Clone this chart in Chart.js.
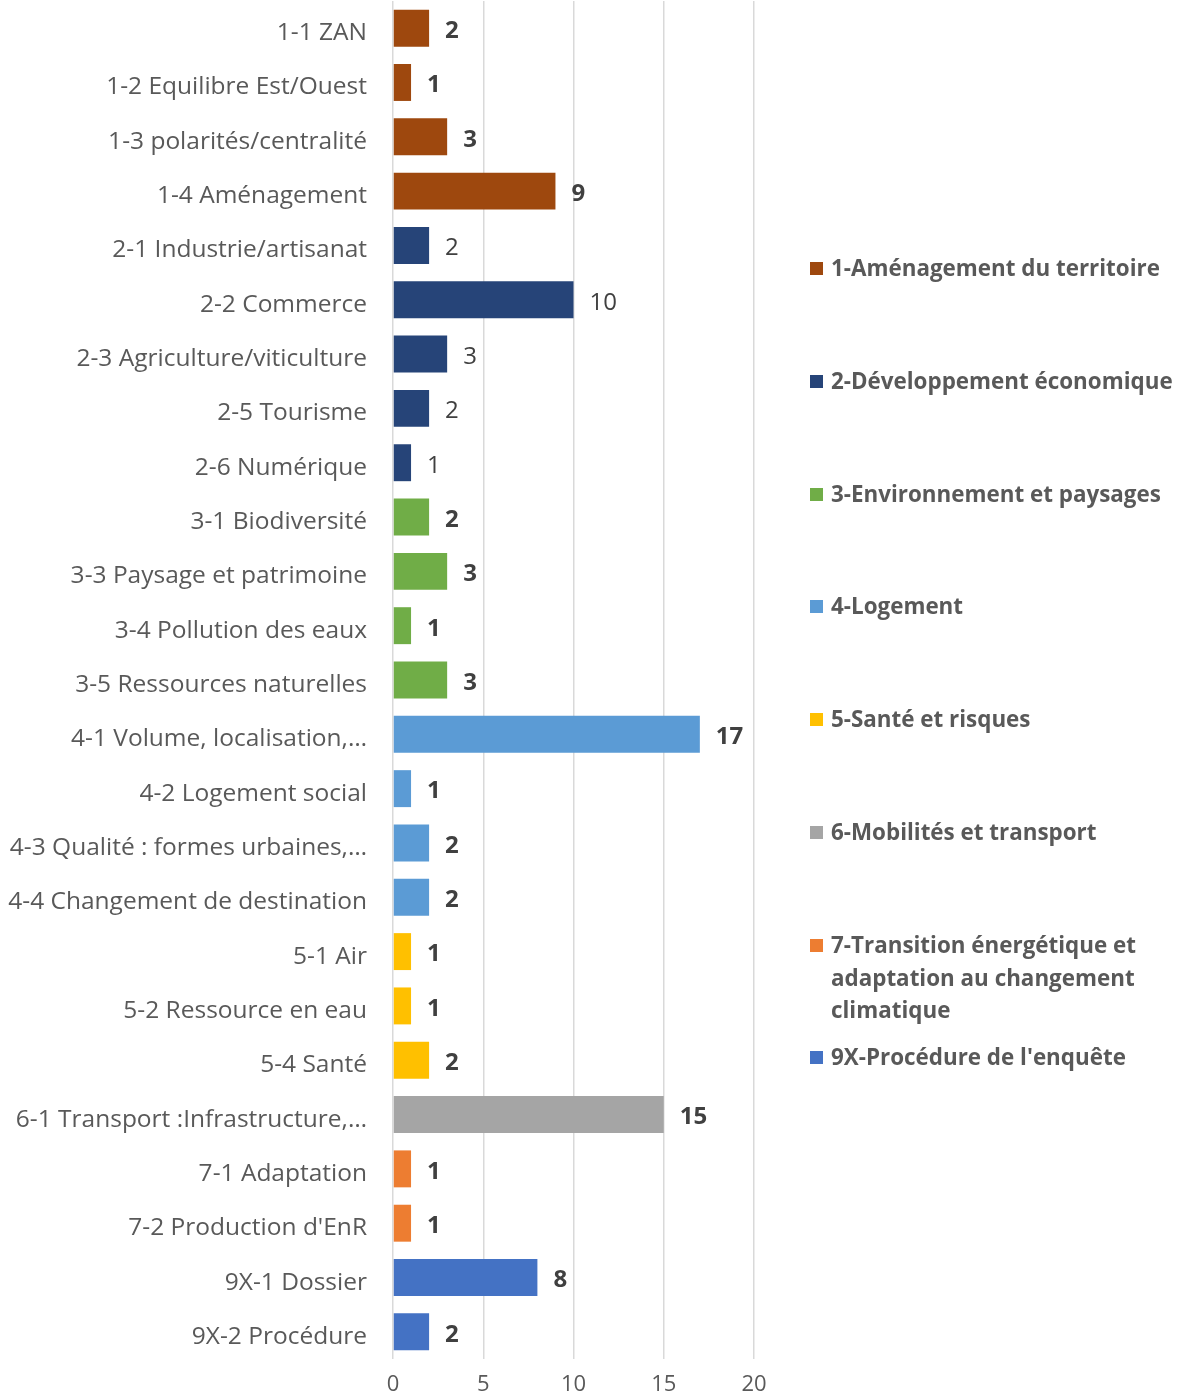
<!DOCTYPE html>
<html>
<head>
<meta charset="utf-8">
<script src="https://cdn.jsdelivr.net/npm/chart.js@4.4.1/dist/chart.umd.min.js"></script>
<style>
  body { margin: 0; background: #fff; }
  #wrap { position: relative; width: 1177px; height: 1392px; }
  #chart { position: absolute; left: 0; top: 0; }
  #legend { position: absolute; left: 810px; top: 0; font-family: "Open Sans", sans-serif; font-weight: bold; font-size: 22.4px; color: #595959; }
  .item { position: absolute; left: 0; width: 366px; display: flex; line-height: 32.5px; }
  .box { flex: none; width: 13px; height: 13px; margin: 10px 8px 0 0; }
</style>
</head>
<body>
<div id="wrap">
  <canvas id="chart" width="1177" height="1392"></canvas>
  <div id="legend"></div>
</div>
<script>
// categories (top to bottom)
var labels = [
    '1-1 ZAN', '1-2 Equilibre Est/Ouest', '1-3 polarités/centralité', '1-4 Aménagement',
    '2-1 Industrie/artisanat', '2-2 Commerce', '2-3 Agriculture/viticulture', '2-5 Tourisme', '2-6 Numérique',
    '3-1 Biodiversité', '3-3 Paysage et patrimoine', '3-4 Pollution des eaux', '3-5 Ressources naturelles',
    '4-1 Volume, localisation,…', '4-2 Logement social', '4-3 Qualité : formes urbaines,…', '4-4 Changement de destination',
    '5-1 Air', '5-2 Ressource en eau', '5-4 Santé',
    '6-1 Transport :Infrastructure,…',
    '7-1 Adaptation', "7-2 Production d'EnR",
    '9X-1 Dossier', '9X-2 Procédure'
]
var values = [2, 1, 3, 9, 2, 10, 3, 2, 1, 2, 3, 1, 3, 17, 1, 2, 2, 1, 1, 2, 15, 1, 1, 8, 2]
// group index of each category
var groupOf = [0, 0, 0, 0, 1, 1, 1, 1, 1, 2, 2, 2, 2, 3, 3, 3, 3, 4, 4, 4, 5, 6, 6, 7, 7]

var groups = [
    '1-Aménagement du territoire',
    '2-Développement économique',
    '3-Environnement et paysages',
    '4-Logement',
    '5-Santé et risques',
    '6-Mobilités et transport',
    '7-Transition énergétique et adaptation au changement climatique',
    "9X-Procédure de l'enquête"
]
var groupColors = ['#9E480E', '#264478', '#70AD47', '#5B9BD5', '#FFC000', '#A5A5A5', '#ED7D31', '#4472C4']
var xTicks = [0, 5, 10, 15, 20]

// legend built from the groups
var legendTops = [252, 365, 478, 590, 703, 816, 929, 1041]
var legend = document.getElementById('legend')
groups.forEach(function (g, i) {
    var it = document.createElement('div')
    it.className = 'item'
    it.style.top = legendTops[i] + 'px'
    it.innerHTML = '<span class="box" style="background:' + groupColors[i] + '"></span><span>' + g + '</span>'
    legend.appendChild(it)
})

// value labels next to each bar
var valueLabels = {
    id: 'valueLabels',
    afterDatasetsDraw: function (chart) {
        var ctx = chart.ctx
        var meta = chart.getDatasetMeta(0)
        ctx.save()
        ctx.fillStyle = '#404040'
        ctx.textBaseline = 'middle'
        ctx.textAlign = 'left'
        meta.data.forEach(function (bar, i) {
            ctx.font = (groupOf[i] === 1 ? '' : 'bold ') + '24px "Open Sans"'
            ctx.fillText(values[i], bar.x + 16, bar.y + 3)
        })
        ctx.restore()
    }
}

var chart = new Chart(document.getElementById('chart'), {
    type: 'bar',
    data: {
        labels: labels,
        datasets: [{
            data: values,
            backgroundColor: groupOf.map(function (g) { return groupColors[g] }),
            borderWidth: 0,
            barPercentage: 0.68,
            categoryPercentage: 1
        }]
    },
    options: {
        indexAxis: 'y',
        responsive: false,
        animation: false,
        layout: { padding: { top: 1, right: 423, bottom: 0, left: 0 } },
        plugins: { legend: { display: false }, tooltip: { enabled: false } },
        scales: {
            x: {
                min: 0,
                max: 20,
                afterBuildTicks: function (scale) {
                    scale.ticks = xTicks.map(function (v) { return { value: v } })
                },
                afterFit: function (scale) { scale.height = 33 },
                grid: { color: '#d9d9d9', lineWidth: 1.5, drawTicks: false },
                border: { display: false },
                ticks: { color: '#595959', font: { family: 'Open Sans', size: 22 }, padding: 13 }
            },
            y: {
                afterFit: function (scale) {
                    scale.width = 393
                    scale.paddingTop = 0
                    scale.paddingBottom = 0
                },
                grid: { display: false, drawTicks: false },
                border: { display: false },
                ticks: { color: '#595959', font: { family: 'Open Sans', size: 24.5 }, padding: 26, labelOffset: 5, autoSkip: false }
            }
        }
    },
    plugins: [valueLabels]
})
</script>
</body>
</html>
